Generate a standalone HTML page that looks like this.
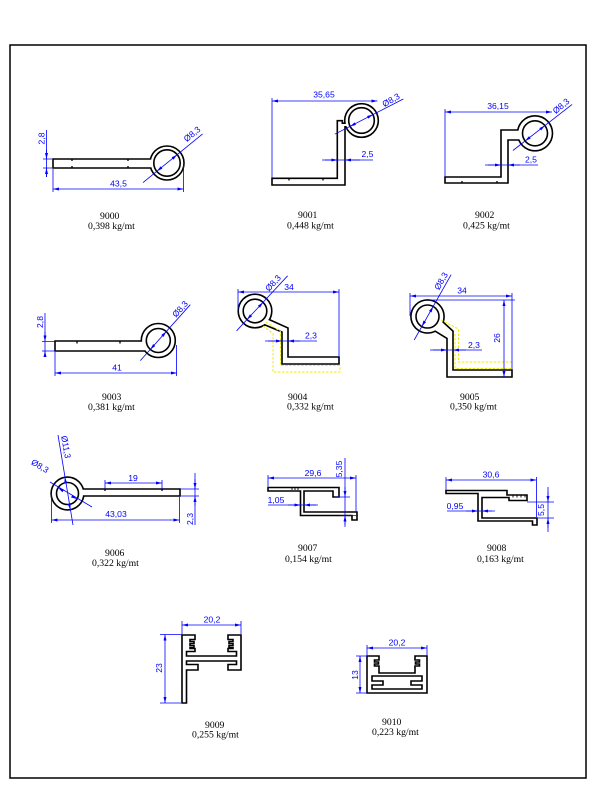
<!DOCTYPE html>
<html><head><meta charset="utf-8"><style>html,body{margin:0;padding:0;background:#fff}svg{display:block}</style></head>
<body>
<svg width="600" height="799" viewBox="0 0 600 799" xmlns="http://www.w3.org/2000/svg">
<defs>
<marker id="ar" viewBox="0 0 6 3" refX="6" refY="1.5" markerWidth="6" markerHeight="3" orient="auto-start-reverse" markerUnits="userSpaceOnUse"><path d="M0,0L6,1.5L0,3Z" fill="#00f"/></marker>
<g id="s0"><path d="M53.8,159.8H160V167.2H53.8Z"/><circle cx="167" cy="163" r="16.2"/></g>
<g id="s1"><path d="M272.8,179.1H338.1V121.5H341.5V124H347V126H344.2V184.2H272.8Z"/><circle cx="361.5" cy="120.5" r="16"/></g>
<g id="s2"><path d="M445.8,177.8H501.8V130.8H525V139.2H507.2V182.2H445.8Z"/><circle cx="535" cy="133.3" r="16.7"/></g>
<g id="s3"><path d="M55.8,341.8H158V350.2H55.8Z"/><circle cx="158.3" cy="340.5" r="16.2"/></g>
<g id="s4"><path d="M266,319L287.2,328.5V357.8H338.2V363.2H282.8V331.5L262.5,323Z"/><circle cx="255" cy="311" r="16"/></g>
<g id="s5"><path d="M438,318.5L452.2,331.5V370.8H511.2V376.2H447.8V338L434,329.5Z"/><circle cx="427.5" cy="316.5" r="15.8"/></g>
<g id="s6"><path d="M75,489.8H179.2V495.2H75Z"/><circle cx="67.5" cy="493.5" r="15.6"/></g>
</defs>
<rect width="600" height="799" fill="#fff"/>
<rect x="10" y="45" width="576" height="733" fill="none" stroke="#000" stroke-width="1.5"/>

<!-- profiles with rings -->
<g>
<use href="#s0" fill="none" stroke="#000" stroke-width="3.2"/><use href="#s0" fill="#fff"/>
<circle cx="167" cy="163" r="13.2" fill="#fff" stroke="#000" stroke-width="1.6"/>
<use href="#s1" fill="none" stroke="#000" stroke-width="3.2"/><use href="#s1" fill="#fff"/>
<circle cx="361.5" cy="120.5" r="12.8" fill="#fff" stroke="#000" stroke-width="1.6"/>
<use href="#s2" fill="none" stroke="#000" stroke-width="3.2"/><use href="#s2" fill="#fff"/>
<circle cx="535" cy="133.3" r="12.5" fill="#fff" stroke="#000" stroke-width="1.6"/>
<use href="#s3" fill="none" stroke="#000" stroke-width="3.2"/><use href="#s3" fill="#fff"/>
<circle cx="158.3" cy="340.5" r="12" fill="#fff" stroke="#000" stroke-width="1.6"/>
<use href="#s4" fill="none" stroke="#000" stroke-width="3.2"/><use href="#s4" fill="#fff"/>
<circle cx="255" cy="311" r="11.8" fill="#fff" stroke="#000" stroke-width="1.6"/>
<use href="#s5" fill="none" stroke="#000" stroke-width="3.2"/><use href="#s5" fill="#fff"/>
<circle cx="427.5" cy="316.5" r="11.5" fill="#fff" stroke="#000" stroke-width="1.6"/>
<use href="#s6" fill="none" stroke="#000" stroke-width="3.2"/><use href="#s6" fill="#fff"/>
<circle cx="67.5" cy="493.5" r="11" fill="#fff" stroke="#000" stroke-width="1.6"/>
</g>

<!-- notches -->
<g stroke="#000" stroke-width="1.3">
<path d="M72,159v2M128,159v2M72,168v-2M128,168v-2"/>
<path d="M289,178.5v2M323,178.5v2"/>
<path d="M462,183v-2M497,183v-2"/>
<path d="M77,341.5v2M120,341.5v2"/>
<path d="M105,489v2M162,489v2"/>
</g>

<!-- flat profiles -->
<g fill="#fff" stroke="#000" stroke-width="1.6" stroke-linejoin="miter">
<path d="M268,487.5H339V497H333V491H304V512H357V520H352V515.5H300.5V491H268Z"/>
<path d="M446,490.5H507V495H527V500.5H509V497.5H482V518H537V525H532.5V521H478V493.5H446Z"/>
<path d="M182,635H195V639.5H190V641.5H194V643.5H190V645.5H194V647.5H190V648.5H195V651.5H186.5V656H236.5V651.5H228V648.5H233V647.5H229V645.5H233V643.5H229V641.5H233V639.5H228V635H241V670H228V664.5H236.5V661H186.5V664.5H198V670H186.5V703H182Z"/>
<path fill-rule="evenodd" d="M367,656H379V660H374.5V662H378.5V664H374.5V666H379V673H415V666H419.5V664H415.5V662H419.5V660H415V656H427V693H367Z M372,676H422V681H411V685H422V689H372V685H383V681H372Z"/>
</g>
<g stroke="#000" stroke-width="0.9">
<path d="M292,488v2M295,488v2M298,488v2"/>
<path d="M513,495.5v2M517,495.5v2M521,495.5v2M525,495.5v2"/>
</g>

<!-- yellow dashed -->
<g fill="none" stroke="#ecec00" stroke-width="1" stroke-dasharray="2.5,1.5">
<polyline points="263,326 273,333.5 273,372 340,372 340,365"/>
<polyline points="266,322 280.5,331.5 280.5,365.5 339,365.5"/>
<polyline points="441,320 458.5,329 458.5,362 512,362"/>
<polyline points="455,334 455,368.5 512,368.5"/>
</g>

<!-- dimension lines -->
<g stroke="#00f" stroke-width="0.8" fill="none">
<!-- 9000 -->
<path d="M46.5,130V177M43,159H52M43,168H52"/>
<path d="M46.5,150V159" marker-end="url(#ar)"/><path d="M46.5,177V168" marker-end="url(#ar)"/>
<path d="M53,189H183.5" marker-start="url(#ar)" marker-end="url(#ar)"/>
<path d="M53,169V192M183.5,165V192"/>
<path d="M143,182.6L202.6,133.9"/>
<path d="M167,163L177.1,154.8" stroke="none" marker-end="url(#ar)"/><path d="M167,163L156.9,171.2" stroke="none" marker-end="url(#ar)"/>
<!-- 9001 -->
<path d="M272,101H377.5" marker-start="url(#ar)" marker-end="url(#ar)"/>
<path d="M272,98V178"/>
<path d="M322,160H373"/>
<path d="M325,160H337.3" marker-end="url(#ar)"/><path d="M360,160H345" marker-end="url(#ar)"/>
<path d="M334.8,134.2L403.3,99"/>
<path d="M361.5,120.5L372.9,114.6" stroke="none" marker-end="url(#ar)"/><path d="M361.5,120.5L350.1,126.4" stroke="none" marker-end="url(#ar)"/>
<!-- 9002 -->
<path d="M445,112H552" marker-start="url(#ar)" marker-end="url(#ar)"/>
<path d="M445,109V177"/>
<path d="M485,165H538"/>
<path d="M488,165H501" marker-end="url(#ar)"/><path d="M520,165H508" marker-end="url(#ar)"/>
<path d="M512.9,150.5L572.1,104.4"/>
<path d="M535,133.3L544.9,125.6" stroke="none" marker-end="url(#ar)"/><path d="M535,133.3L525.1,141" stroke="none" marker-end="url(#ar)"/>
<!-- 9003 -->
<path d="M45,313V357M42,341.5H55M42,351H55"/>
<path d="M45,332V341.5" marker-end="url(#ar)"/><path d="M45,357V351" marker-end="url(#ar)"/>
<path d="M55,373H177" marker-start="url(#ar)" marker-end="url(#ar)"/>
<path d="M55,352V376M176.5,345V376"/>
<path d="M140.3,360.6L190.3,304.7"/>
<path d="M158.3,340.5L166.3,331.5" stroke="none" marker-end="url(#ar)"/><path d="M158.3,340.5L150.3,349.5" stroke="none" marker-end="url(#ar)"/>
<!-- 9004 -->
<path d="M238,292H339" marker-start="url(#ar)" marker-end="url(#ar)"/>
<path d="M238,289V310M339,289V357"/>
<path d="M265,341H317"/>
<path d="M268,341H282" marker-end="url(#ar)"/><path d="M300,341H288" marker-end="url(#ar)"/>
<path d="M236.6,330.8L287.6,275.8"/>
<path d="M255,311L263,302.4" stroke="none" marker-end="url(#ar)"/><path d="M255,311L247,319.6" stroke="none" marker-end="url(#ar)"/>
<!-- 9005 -->
<path d="M410,296H512" marker-start="url(#ar)" marker-end="url(#ar)"/>
<path d="M410,293V316M512,293V370M430,300H515"/>
<path d="M504,300V377" marker-start="url(#ar)" marker-end="url(#ar)"/>
<path d="M430,350H482"/>
<path d="M433,350H447" marker-end="url(#ar)"/><path d="M466,350H453" marker-end="url(#ar)"/>
<path d="M414.2,340L451.1,274.7"/>
<path d="M427.5,316.5L433.2,306.5" stroke="none" marker-end="url(#ar)"/><path d="M427.5,316.5L421.8,326.5" stroke="none" marker-end="url(#ar)"/>
<!-- 9006 -->
<path d="M105,483H162" marker-start="url(#ar)" marker-end="url(#ar)"/>
<path d="M105,480V489M162,480V489"/>
<path d="M51.5,520H179.5" marker-start="url(#ar)" marker-end="url(#ar)"/>
<path d="M51.5,494V523M179.5,497V523"/>
<path d="M195,473V525M180,489H199M180,496H199"/>
<path d="M195,479V489" marker-end="url(#ar)"/><path d="M195,506V496" marker-end="url(#ar)"/>
<path d="M58,435L73,525"/>
<path d="M67.5,493.5L70.2,509.7" stroke="none" marker-end="url(#ar)"/><path d="M67.5,493.5L64.8,477.3" stroke="none" marker-end="url(#ar)"/>
<path d="M50,482L92,507"/>
<path d="M67.5,493.5L76.9,499.1" stroke="none" marker-end="url(#ar)"/><path d="M67.5,493.5L58.1,487.9" stroke="none" marker-end="url(#ar)"/>
<!-- 9007 -->
<path d="M268,478H356" marker-start="url(#ar)" marker-end="url(#ar)"/>
<path d="M268,475V486.5M356,475V512"/>
<path d="M345,458V527M335,497H350M340,515.5H358"/>
<path d="M345,487V497" marker-end="url(#ar)"/><path d="M345,525V515.5" marker-end="url(#ar)"/>
<path d="M268,505H318"/>
<path d="M288,505H300.5" marker-end="url(#ar)"/><path d="M316,505H304" marker-end="url(#ar)"/>
<!-- 9008 -->
<path d="M446,480H536.5" marker-start="url(#ar)" marker-end="url(#ar)"/>
<path d="M446,477V490M536.5,477V517"/>
<path d="M548,487V532M527,502H554M537,518H554"/>
<path d="M548,492V502" marker-end="url(#ar)"/><path d="M548,528V518" marker-end="url(#ar)"/>
<path d="M447,511H495"/>
<path d="M466,511H478" marker-end="url(#ar)"/><path d="M492,511H482" marker-end="url(#ar)"/>
<!-- 9009 -->
<path d="M182,625H241" marker-start="url(#ar)" marker-end="url(#ar)"/>
<path d="M182,621V634M241,621V634"/>
<path d="M165,634.5V703" marker-start="url(#ar)" marker-end="url(#ar)"/>
<path d="M160,634.5H182M160,703H181"/>
<!-- 9010 -->
<path d="M367,648H427" marker-start="url(#ar)" marker-end="url(#ar)"/>
<path d="M367,645V656M427,645V656"/>
<path d="M360,656V693" marker-start="url(#ar)" marker-end="url(#ar)"/>
<path d="M356,656H367M356,693H367"/>
</g>

<!-- dimension text -->
<g font-family="'Liberation Sans', Arial, sans-serif" font-size="8.6" fill="#00f" text-anchor="middle">
<text transform="translate(41.5,138.5) rotate(-90)" dominant-baseline="central">2,8</text>
<text x="118.5" y="186.5">43,5</text>
<text transform="translate(192,134) rotate(-39)" dominant-baseline="central">Ø8,3</text>

<text x="324" y="97.5">35,65</text>
<text x="367.5" y="157">2,5</text>
<text transform="translate(391,100) rotate(-30)" dominant-baseline="central">Ø8,3</text>

<text x="498" y="109">36,15</text>
<text x="531" y="162.5">2,5</text>
<text transform="translate(561,106) rotate(-40)" dominant-baseline="central">Ø8,3</text>

<text transform="translate(40,322) rotate(-90)" dominant-baseline="central">2,8</text>
<text x="117" y="370.5">41</text>
<text transform="translate(180,309) rotate(-48)" dominant-baseline="central">Ø8,3</text>

<text x="289" y="290">34</text>
<text x="311" y="338.5">2,3</text>
<text transform="translate(273,283) rotate(-47)" dominant-baseline="central">Ø8,3</text>

<text x="462" y="293.5">34</text>
<text transform="translate(497,338) rotate(-90)" dominant-baseline="central">26</text>
<text x="474" y="348">2,3</text>
<text transform="translate(441,281) rotate(-60)" dominant-baseline="central">Ø8,3</text>

<text x="133" y="481">19</text>
<text x="116" y="517">43,03</text>
<text transform="translate(190,519) rotate(-90)" dominant-baseline="central">2,3</text>
<text transform="translate(66,447) rotate(80)" dominant-baseline="central">Ø11,3</text>
<text transform="translate(40,466) rotate(31)" dominant-baseline="central">Ø8,3</text>

<text x="313" y="476">29,6</text>
<text transform="translate(339,469) rotate(-90)" dominant-baseline="central">5,35</text>
<text x="276" y="503">1,05</text>

<text x="491" y="477.5">30,6</text>
<text transform="translate(541,510) rotate(-90)" dominant-baseline="central">5,5</text>
<text x="455" y="509">0,95</text>

<text x="212" y="622.5">20,2</text>
<text transform="translate(159,668) rotate(-90)" dominant-baseline="central">23</text>

<text x="397" y="645.5">20,2</text>
<text transform="translate(355,675) rotate(-90)" dominant-baseline="central">13</text>
</g>

<!-- labels -->
<g font-family="'Liberation Serif', 'Times New Roman', serif" font-size="9.7" fill="#000">
<text x="100" y="219">9000</text><text x="88" y="229">0,398 kg/mt</text>
<text x="298" y="218">9001</text><text x="287" y="228.5">0,448 kg/mt</text>
<text x="475" y="218">9002</text><text x="463" y="228.5">0,425 kg/mt</text>
<text x="102" y="400">9003</text><text x="88" y="410">0,381 kg/mt</text>
<text x="288" y="400">9004</text><text x="287" y="409.5">0,332 kg/mt</text>
<text x="460" y="400">9005</text><text x="450" y="409.5">0,350 kg/mt</text>
<text x="105" y="556">9006</text><text x="92" y="566">0,322 kg/mt</text>
<text x="298" y="551">9007</text><text x="285" y="562">0,154 kg/mt</text>
<text x="487" y="551">9008</text><text x="477" y="562">0,163 kg/mt</text>
<text x="205" y="728">9009</text><text x="192" y="737.5">0,255 kg/mt</text>
<text x="382" y="725">9010</text><text x="372" y="735">0,223 kg/mt</text>
</g>
</svg>
</body></html>
